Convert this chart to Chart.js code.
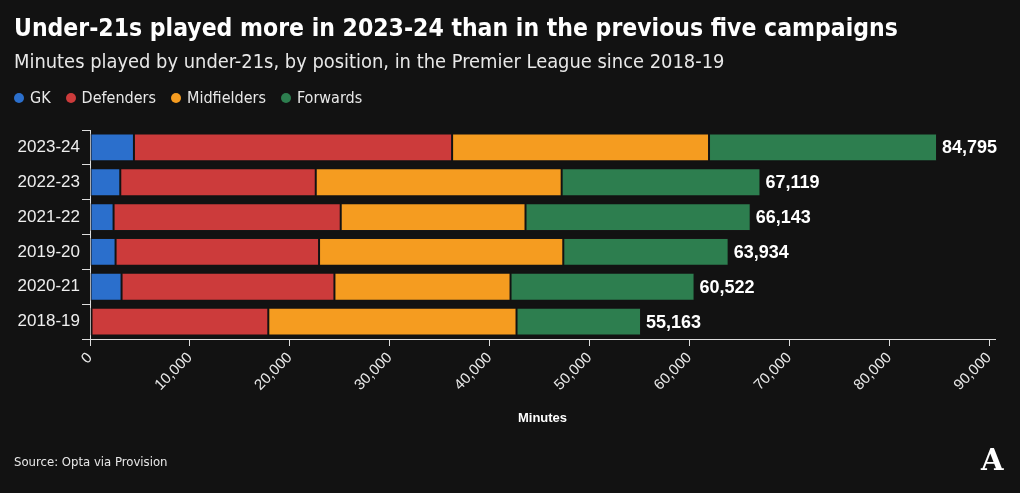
<!DOCTYPE html>
<html>
<head>
<meta charset="utf-8">
<script src="https://cdn.jsdelivr.net/npm/chart.js@4/dist/chart.umd.min.js"></script>
<style>
  html, body { margin: 0; padding: 0; background: #121212; }
  body { width: 1020px; height: 493px; position: relative; overflow: hidden; font-family: "Liberation Sans", Arial, sans-serif; color: #fff; }
  #wrap { position: absolute; left: 0; top: 0; width: 1020px; height: 493px; }
  .title { position: absolute; left: 14px; top: 13px; font-family: "Liberation Sans Narrow", "DejaVu Sans Condensed", sans-serif; font-weight: bold; font-size: 24.5px; white-space: nowrap; }
  .subtitle { position: absolute; left: 14px; top: 50px; font-family: "Liberation Sans Narrow", "DejaVu Sans Condensed", sans-serif; font-size: 19.9px; color: #e8e8e8; white-space: nowrap; }
  .legend { position: absolute; left: 14px; top: 88px; display: flex; font-family: "Liberation Sans Narrow", "DejaVu Sans Condensed", sans-serif; font-size: 16px; color: #e8e8e8; }
  .legend span { display: flex; align-items: center; margin-right: 15px; }
  .legend i { display: inline-block; width: 10px; height: 10px; border-radius: 50%; margin-right: 6px; }
  .source { position: absolute; left: 14px; top: 454px; font-family: "Liberation Sans Narrow", "DejaVu Sans Condensed", sans-serif; font-size: 13px; color: #e8e8e8; }
  .logo { position: absolute; left: 981px; top: 443px; font-family: "DejaVu Serif", serif; font-weight: bold; font-size: 29px; color: #fff; }
</style>
</head>
<body>
<div id="wrap"><canvas id="chart"></canvas></div>
<div class="title">Under-21s played more in 2023-24 than in the previous five campaigns</div>
<div class="subtitle">Minutes played by under-21s, by position, in the Premier League since 2018-19</div>
<div class="legend" id="legend"></div>
<div class="source">Source: Opta via Provision</div>
<div class="logo">A</div>
<script>
const seasons = ['2023-24', '2022-23', '2021-22', '2019-20', '2020-21', '2018-19'];
const gk = [4400, 3030, 2360, 2560, 3160, 150];
const defenders = [31850, 19570, 22740, 20370, 21310, 17700];
const midfielders = [25720, 24620, 18500, 24450, 17630, 24850];
const forwards = [22825, 19899, 22543, 16554, 18422, 12463];
const totals = [84795, 67119, 66143, 63934, 60522, 55163];
const xTicks = [0, 10000, 20000, 30000, 40000, 50000, 60000, 70000, 80000, 90000];

const positions = ['GK', 'Defenders', 'Midfielders', 'Forwards'];
const colors = ['#2b6fcc', '#cc3b3b', '#f59c20', '#2d7e4f'];

// html legend
const legendEl = document.getElementById('legend');
positions.forEach((p, i) => {
  const s = document.createElement('span');
  s.innerHTML = '<i style="background:' + colors[i] + '"></i>' + p;
  legendEl.appendChild(s);
});

// totals at the end of each bar
const totalLabels = {
  id: 'totalLabels',
  afterDatasetsDraw(chart) {
    const ctx = chart.ctx;
    const x = chart.scales.x;
    const meta = chart.getDatasetMeta(3);
    ctx.save();
    ctx.font = 'bold 18px "Liberation Sans", Arial, sans-serif';
    ctx.fillStyle = '#fff';
    ctx.textBaseline = 'middle';
    totals.forEach((t, i) => {
      ctx.fillText(t.toLocaleString('en-US'), x.getPixelForValue(t) + 5, meta.data[i].y + 1);
    });
    ctx.restore();
  }
};

const ctx = document.getElementById('chart').getContext('2d');
new Chart(ctx, {
  type: 'bar',
  data: {
    labels: seasons,
    datasets: [gk, defenders, midfielders, forwards].map((d, i) => ({
      label: positions[i],
      data: d,
      backgroundColor: colors[i],
      borderColor: '#151515',
      borderWidth: 1,
      borderSkipped: false,
      categoryPercentage: 0.8,
      barPercentage: 1
    }))
  },
  options: {
    indexAxis: 'y',
    responsive: true,
    maintainAspectRatio: false,
    animation: false,
    layout: { padding: { top: 130, right: 25, bottom: 63, left: 0 } },
    plugins: {
      legend: { display: false },
      tooltip: { enabled: false }
    },
    scales: {
      x: {
        stacked: true,
        min: 0,
        max: 90600,
        afterBuildTicks: (scale) => {
          scale.ticks = xTicks.map(v => ({ value: v }));
        },
        afterFit: (scale) => { scale.height = 91; },
        ticks: {
          color: '#e8e8e8',
          font: { size: 15, family: '"Liberation Sans", Arial, sans-serif' },
          minRotation: 45,
          maxRotation: 45,
          padding: 3
        },
        grid: { drawOnChartArea: false, drawTicks: true, tickLength: 7, color: '#ddd' },
        border: { display: true, color: '#ddd' },
        title: {
          display: true,
          text: 'Minutes',
          color: '#fff',
          font: { size: 13, weight: 'bold', family: '"Liberation Sans", Arial, sans-serif' }
        }
      },
      y: {
        stacked: true,
        afterFit: (scale) => { scale.width = 90; },
        ticks: {
          color: '#eee',
          font: { size: 17, family: '"Liberation Sans", Arial, sans-serif' },
          padding: 2
        },
        grid: { drawOnChartArea: false, drawTicks: true, tickLength: 8, color: '#ddd' },
        border: { display: true, color: '#ddd' }
      }
    }
  },
  plugins: [totalLabels]
});
</script>
</body>
</html>
